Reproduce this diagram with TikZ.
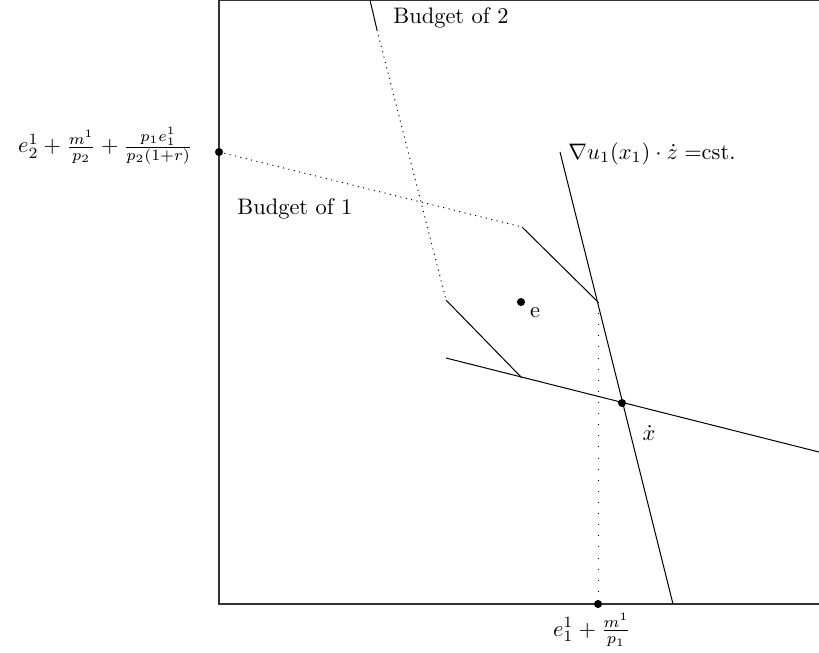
\documentclass[tikz,border=0pt]{standalone}
\usepackage{amsmath}
\begin{document}
\begin{tikzpicture}[x=0.4456pt,y=-0.4456pt,
  frame/.style={line width=0.5pt, black!80},
  solidline/.style={line width=0.45pt},
  dotline/.style={line width=0.45pt, dotted},
  sparsedot/.style={line width=0.45pt, dash pattern=on 0.45pt off 4.5pt},
  pt/.style={circle, fill=black, inner sep=0pt, minimum size=3.6pt},
  lab/.style={inner sep=0pt}]
\useasboundingbox (0,0) rectangle (819,652);
% frame
\coordinate (TR) at (819,0.6);
\coordinate (TL) at (219,0.6);
\coordinate (BL) at (219,604);
\coordinate (BR) at (819,604);
\draw[frame] (TR) -- (TL) -- (BL) -- (BR);
% key points
\coordinate (A) at (219,152);
\coordinate (B1) at (522,227);
\coordinate (C) at (598,302);
\coordinate (T2) at (370,0);
\coordinate (T2s) at (377,30);
\coordinate (D) at (446,300);
\coordinate (F) at (522,378);
\coordinate (L0) at (446,358);
\coordinate (L1) at (819,452);
\coordinate (M0) at (560,152);
\coordinate (M1) at (673,604);
\coordinate (P) at (598,604);
% budget 1
\draw[dotline] (A) -- (B1);
\draw[solidline] (B1) -- (C);
% budget 2
\draw[solidline] (T2) -- (T2s);
\draw[dotline] (T2s) -- (D);
\draw[solidline] (D) -- (F);
% straight lines
\draw[solidline] (L0) -- (L1);
\draw[solidline] (M0) -- (M1);
\draw[sparsedot] (C) -- (P);
% dots
\node[pt] (dA) at (A) {};
\node[pt] (dE) at (521,302) {};
\node[pt] (dX) at (622,403) {};
\node[pt] (dP) at (P) {};
% labels
\node[lab, anchor=east] (labA) at (193,146) {$e_2^1+\frac{m^1}{p_2}+\frac{p_1e_1^1}{p_2(1+r)}$};
\node[lab, anchor=base west] (b1) at (237,214) {Budget of 1};
\node[lab, anchor=base west] (b2) at (393,23) {Budget of 2};
\node[lab, anchor=west] (grad) at (568,154) {$\nabla u_1(x_1)\cdot\dot z=$cst.};
\node[lab] (le) at (535,313) {e};
\node[lab] (lx) at (649,433) {$\dot x$};
\node[lab] (lP) at (592,630) {$e_1^1+\frac{m^1}{p_1}$};
\end{tikzpicture}
\end{document}
